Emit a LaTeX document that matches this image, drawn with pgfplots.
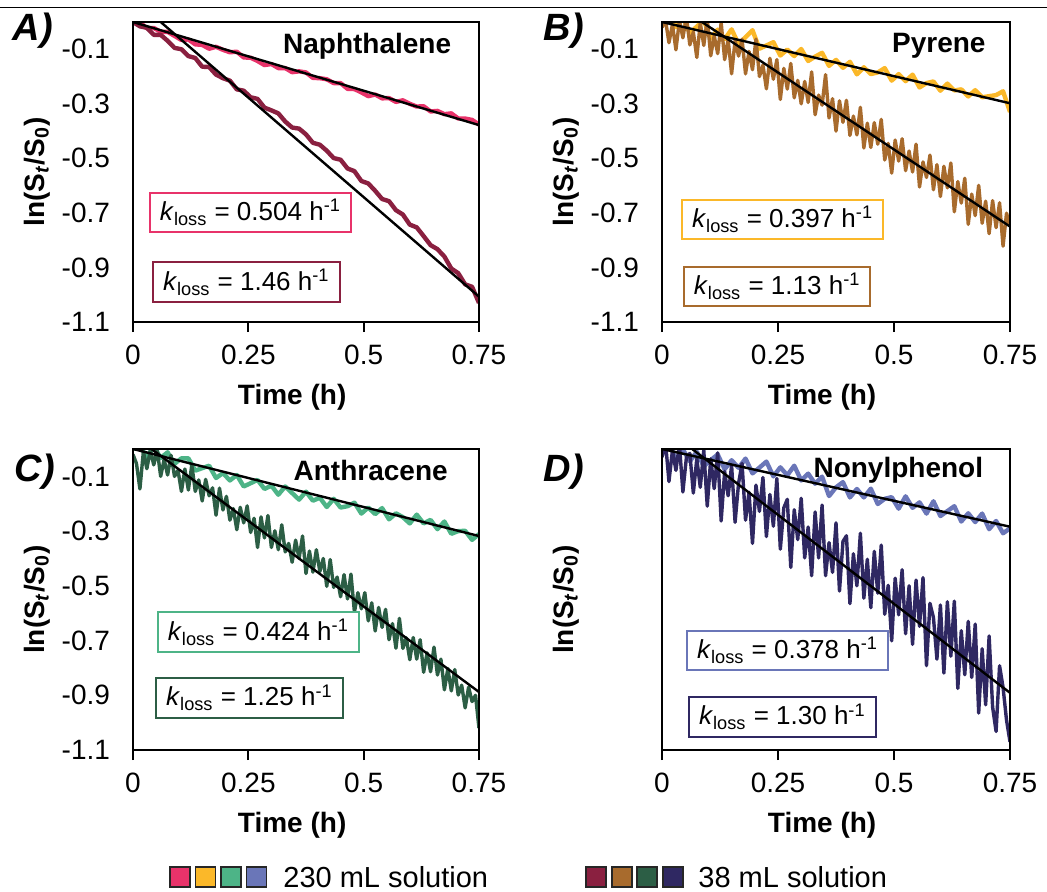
\documentclass[border=0pt]{standalone}
\usepackage{fontspec}
\setmainfont{Liberation Sans}
\usepackage{pgfplots}
\usepackage{pgfplotstable}
\pgfplotsset{compat=1.18}
\definecolor{cn1}{HTML}{E8336A}
\definecolor{cn2}{HTML}{8A2040}
\definecolor{cp1}{HTML}{FBB829}
\definecolor{cp2}{HTML}{A86B2D}
\definecolor{ca1}{HTML}{4DB487}
\definecolor{ca2}{HTML}{2C5E45}
\definecolor{cnp1}{HTML}{6A76B8}
\definecolor{cnp2}{HTML}{2F2862}

\pgfplotstableread{
t n1 n2 p1 a1 np1
0.000 0.000 0.000 0.000 0.000 0.000
0.015 -0.002 -0.016 0.015 0.012 0.028
0.030 -0.023 -0.021 -0.019 -0.030 -0.043
0.045 -0.022 -0.047 0.016 0.009 -0.002
0.060 -0.036 -0.047 -0.040 -0.033 -0.045
0.075 -0.036 -0.069 -0.017 -0.012 -0.010
0.090 -0.051 -0.095 0.006 -0.054 -0.063
0.105 -0.066 -0.100 -0.061 -0.034 -0.041
0.120 -0.064 -0.125 -0.028 -0.034 -0.020
0.135 -0.082 -0.132 -0.063 -0.079 -0.074
0.150 -0.084 -0.164 -0.027 -0.070 -0.041
0.165 -0.098 -0.165 -0.081 -0.061 -0.069
0.180 -0.091 -0.193 -0.056 -0.106 -0.035
0.195 -0.102 -0.206 -0.030 -0.088 -0.089
0.210 -0.111 -0.215 -0.098 -0.115 -0.068
0.225 -0.109 -0.247 -0.086 -0.095 -0.046
0.240 -0.130 -0.252 -0.074 -0.137 -0.100
0.255 -0.131 -0.276 -0.123 -0.125 -0.067
0.270 -0.143 -0.282 -0.101 -0.113 -0.096
0.285 -0.158 -0.314 -0.125 -0.146 -0.061
0.300 -0.154 -0.324 -0.099 -0.134 -0.115
0.315 -0.169 -0.335 -0.143 -0.167 -0.090
0.330 -0.169 -0.365 -0.127 -0.137 -0.127
0.345 -0.184 -0.387 -0.113 -0.161 -0.101
0.360 -0.181 -0.391 -0.161 -0.185 -0.172
0.375 -0.185 -0.412 -0.139 -0.156 -0.140
0.390 -0.205 -0.443 -0.168 -0.189 -0.121
0.405 -0.206 -0.450 -0.146 -0.178 -0.177
0.420 -0.210 -0.472 -0.192 -0.212 -0.146
0.435 -0.224 -0.499 -0.166 -0.182 -0.177
0.450 -0.224 -0.505 -0.191 -0.214 -0.145
0.465 -0.245 -0.537 -0.185 -0.209 -0.201
0.480 -0.246 -0.547 -0.169 -0.196 -0.182
0.495 -0.258 -0.583 -0.215 -0.236 -0.176
0.510 -0.272 -0.592 -0.191 -0.214 -0.218
0.525 -0.266 -0.619 -0.217 -0.238 -0.173
0.540 -0.280 -0.649 -0.193 -0.216 -0.215
0.555 -0.279 -0.657 -0.240 -0.257 -0.195
0.570 -0.293 -0.690 -0.224 -0.235 -0.236
0.585 -0.287 -0.706 -0.218 -0.249 -0.191
0.600 -0.300 -0.743 -0.252 -0.272 -0.245
0.615 -0.310 -0.753 -0.226 -0.240 -0.227
0.630 -0.309 -0.785 -0.251 -0.272 -0.209
0.645 -0.328 -0.818 -0.247 -0.259 -0.265
0.660 -0.326 -0.833 -0.273 -0.293 -0.235
0.675 -0.338 -0.860 -0.250 -0.265 -0.267
0.690 -0.335 -0.904 -0.276 -0.310 -0.236
0.705 -0.354 -0.921 -0.272 -0.300 -0.293
0.720 -0.354 -0.962 -0.268 -0.299 -0.263
0.735 -0.359 -0.971 -0.254 -0.332 -0.308
0.750 -0.376 -1.030 -0.330 -0.311 -0.290
}\lowtab

\pgfplotstableread{
t p2 a2 np2
0.0000 -0.020 -0.020 -0.030
0.0075 0.007 -0.053 0.025
0.0150 -0.076 -0.146 -0.119
0.0225 -0.009 -0.009 -0.004
0.0300 -0.102 -0.072 -0.078
0.0375 0.005 -0.005 0.017
0.0450 -0.058 -0.058 -0.157
0.0525 0.019 -0.003 -0.032
0.0600 -0.084 -0.100 -0.016
0.0675 -0.037 -0.038 -0.161
0.0750 -0.130 -0.095 -0.035
0.0825 -0.003 -0.023 -0.140
0.0900 -0.086 -0.100 -0.004
0.0975 0.011 -0.078 -0.209
0.1050 -0.124 -0.155 -0.036
0.1125 -0.050 -0.073 -0.145
0.1200 -0.116 -0.150 -0.014
0.1275 -0.002 -0.058 -0.263
0.1350 -0.138 -0.155 -0.082
0.1425 -0.064 -0.113 -0.171
0.1500 -0.190 -0.190 -0.060
0.1575 -0.068 -0.111 -0.268
0.1650 -0.125 -0.171 -0.125
0.1725 -0.063 -0.142 -0.053
0.1800 -0.190 -0.242 -0.260
0.1875 -0.108 -0.143 -0.158
0.1950 -0.175 -0.223 -0.345
0.2025 -0.063 -0.173 -0.132
0.2100 -0.200 -0.260 -0.228
0.2175 -0.158 -0.218 -0.104
0.2250 -0.245 -0.295 -0.320
0.2325 -0.133 -0.213 -0.166
0.2400 -0.210 -0.270 -0.282
0.2475 -0.138 -0.208 -0.108
0.2550 -0.284 -0.305 -0.366
0.2625 -0.170 -0.253 -0.215
0.2700 -0.246 -0.360 -0.184
0.2775 -0.152 -0.248 -0.433
0.2850 -0.278 -0.325 -0.222
0.2925 -0.214 -0.243 -0.331
0.3000 -0.300 -0.360 -0.180
0.3075 -0.218 -0.299 -0.398
0.3150 -0.295 -0.368 -0.285
0.3225 -0.183 -0.277 -0.463
0.3300 -0.340 -0.376 -0.230
0.3375 -0.268 -0.345 -0.398
0.3450 -0.305 -0.414 -0.205
0.3525 -0.193 -0.333 -0.463
0.3600 -0.352 -0.400 -0.342
0.3675 -0.281 -0.318 -0.451
0.3750 -0.400 -0.455 -0.270
0.3825 -0.289 -0.373 -0.519
0.3900 -0.368 -0.450 -0.338
0.3975 -0.287 -0.368 -0.317
0.4050 -0.416 -0.448 -0.565
0.4125 -0.345 -0.400 -0.383
0.4200 -0.414 -0.502 -0.500
0.4275 -0.313 -0.404 -0.308
0.4350 -0.462 -0.506 -0.545
0.4425 -0.371 -0.468 -0.403
0.4500 -0.460 -0.540 -0.580
0.4575 -0.369 -0.459 -0.374
0.4650 -0.448 -0.548 -0.527
0.4725 -0.357 -0.457 -0.351
0.4800 -0.506 -0.596 -0.604
0.4875 -0.445 -0.525 -0.498
0.4950 -0.554 -0.584 -0.701
0.5025 -0.433 -0.525 -0.472
0.5100 -0.510 -0.628 -0.606
0.5175 -0.428 -0.562 -0.441
0.5250 -0.545 -0.665 -0.675
0.5325 -0.473 -0.579 -0.500
0.5400 -0.550 -0.652 -0.714
0.5475 -0.448 -0.586 -0.479
0.5550 -0.605 -0.697 -0.648
0.5625 -0.513 -0.638 -0.470
0.5700 -0.570 -0.728 -0.792
0.5775 -0.488 -0.619 -0.564
0.5850 -0.615 -0.729 -0.616
0.5925 -0.523 -0.690 -0.768
0.6000 -0.640 -0.770 -0.570
0.6075 -0.529 -0.689 -0.819
0.6150 -0.608 -0.768 -0.558
0.6225 -0.517 -0.697 -0.757
0.6300 -0.696 -0.816 -0.556
0.6375 -0.585 -0.745 -0.875
0.6450 -0.664 -0.814 -0.664
0.6525 -0.573 -0.724 -0.825
0.6600 -0.742 -0.826 -0.630
0.6675 -0.631 -0.768 -0.835
0.6750 -0.710 -0.880 -0.640
0.6825 -0.599 -0.802 -0.965
0.6900 -0.738 -0.884 -0.730
0.6975 -0.657 -0.806 -0.935
0.7050 -0.776 -0.899 -0.683
0.7125 -0.655 -0.863 -0.943
0.7200 -0.754 -0.946 -1.032
0.7275 -0.663 -0.870 -0.792
0.7350 -0.822 -0.923 -0.871
0.7425 -0.701 -0.900 -0.991
0.7500 -0.750 -1.020 -1.070
}\hightab

\newcommand{\kl}[1]{\textit{k}\textsubscript{loss} = #1 h\textsuperscript{-1}}

\pgfplotsset{
  panel/.style={
    scale only axis, width=173pt, height=150pt,
    xmin=0, xmax=0.75, ymin=-1.1, ymax=0,
    axis on top,
    axis line style={line width=1pt, black},
    tick align=outside, major tick length=5pt,
    xtick pos=left,
    xtick={0,0.25,0.5,0.75}, xticklabels={0,0.25,0.5,0.75},
    ytick={-0.1,-0.3,-0.5,-0.7,-0.9,-1.1},
    yticklabels={-0.1,-0.3,-0.5,-0.7,-0.9,-1.1},
    ytick style={draw=none},
    xtick style={line width=1pt, black},
    ticklabel style={font=\fontsize{14}{16}\selectfont},
    yticklabel style={xshift=-3pt},
    xticklabel style={yshift=-3pt},
    xlabel={Time (h)},
    ylabel={ln(S\textsubscript{\textit{t}}/S\textsubscript{0})},
    every axis x label/.style={at={(axis description cs:0.46,0)}, yshift=-37.5pt, anchor=center, font=\fontsize{14}{16}\selectfont\bfseries},
    every axis y label/.style={at={(axis description cs:0,0.5)}, xshift=-48pt, anchor=center, rotate=90, font=\fontsize{14}{16}\selectfont\bfseries},
  },
  thin data/.style={line width=2.2pt, line join=round},
  noisy data/.style={line width=1.7pt, line join=round},
  fit/.style={black, line width=1.2pt},
}
\tikzset{
  kbox/.style={line width=1pt, fill=white, anchor=west, inner xsep=5pt, minimum height=19.5pt, font=\fontsize{13}{15}\selectfont},
  ttl/.style={anchor=east, font=\fontsize{14}{16}\selectfont\bfseries},
}

\begin{document}
\begin{tikzpicture}
\useasboundingbox (0pt,0pt) rectangle (523.5pt,-446pt);
\draw[line width=0.75pt] (0pt,-3.75pt) -- (523.5pt,-3.75pt);

% A
\begin{axis}[panel, at={(66.5pt,-11pt)}, anchor=north west]
\addplot[cn1, thin data] table[x=t,y=n1]{\lowtab};
\addplot[cn2, thin data] table[x=t,y=n2]{\lowtab};
\addplot[fit] coordinates {(0,0) (0.75,-0.378)};
\addplot[fit] coordinates {(0.06,0) (0.75,-1.007)};
\node[ttl] at (axis description cs:0.94,0.92) {Naphthalene};
\node[kbox, draw=cn1] at (axis description cs:0.046,0.365) {\kl{0.504}};
\node[kbox, draw=cn2] at (axis description cs:0.055,0.133) {\kl{1.46}};
\end{axis}

% B
\begin{axis}[panel, width=174pt, at={(331pt,-11pt)}, anchor=north west]
\addplot[cp1, thin data] table[x=t,y=p1]{\lowtab};
\addplot[cp2, noisy data] table[x=t,y=p2]{\hightab};
\addplot[fit] coordinates {(0,0) (0.75,-0.298)};
\addplot[fit] coordinates {(0.086,0) (0.75,-0.750)};
\node[ttl] at (axis description cs:0.95,0.92) {Pyrene};
\node[kbox, draw=cp1] at (axis description cs:0.055,0.342) {\kl{0.397}};
\node[kbox, draw=cp2] at (axis description cs:0.06,0.118) {\kl{1.13}};
\end{axis}

% C
\begin{axis}[panel, height=150.5pt, at={(66.5pt,-224.5pt)}, anchor=north west]
\addplot[ca1, thin data] table[x=t,y=a1]{\lowtab};
\addplot[ca2, noisy data] table[x=t,y=a2]{\hightab};
\addplot[fit] coordinates {(0,0) (0.75,-0.318)};
\addplot[fit] coordinates {(0.04,0) (0.75,-0.888)};
\node[ttl] at (axis description cs:0.93,0.93) {Anthracene};
\node[kbox, draw=ca1] at (axis description cs:0.069,0.392) {\kl{0.424}};
\node[kbox, draw=ca2] at (axis description cs:0.064,0.173) {\kl{1.25}};
\end{axis}

% D
\begin{axis}[panel, width=174pt, height=150.5pt, yticklabels={}, at={(331pt,-224.5pt)}, anchor=north west]
\addplot[cnp1, thin data] table[x=t,y=np1]{\lowtab};
\addplot[cnp2, noisy data] table[x=t,y=np2]{\hightab};
\addplot[fit] coordinates {(0,0) (0.75,-0.284)};
\addplot[fit] coordinates {(0.065,0) (0.75,-0.891)};
\node[ttl] at (axis description cs:0.943,0.93) {Nonylphenol};
\node[kbox, draw=cnp1] at (axis description cs:0.069,0.331) {\kl{0.378}};
\node[kbox, draw=cnp2] at (axis description cs:0.075,0.11) {\kl{1.30}};
\end{axis}

% panel letters
\node[font=\fontsize{19}{21}\selectfont\bfseries\itshape] at (16.5pt,-15.5pt) {A)};
\node[font=\fontsize{19}{21}\selectfont\bfseries\itshape] at (282pt,-15.5pt) {B)};
\node[font=\fontsize{19}{21}\selectfont\bfseries\itshape] at (17.5pt,-236pt) {C)};
\node[font=\fontsize{19}{21}\selectfont\bfseries\itshape] at (282pt,-236pt) {D)};

% legend
\foreach \c/\x in {cn1/90, cp1/102.75, ca1/115.5, cnp1/128.25, cn2/298, cp2/311, ca2/323.5, cnp2/336.5}
  \node[draw=black!85, line width=0.8pt, fill=\c, minimum size=10pt, inner sep=0pt] at (\x pt,-438.5pt) {};
\node[anchor=west, inner sep=0pt, font=\fontsize{14.5}{17}\selectfont] at (141.5pt,-438.5pt) {230 mL solution};
\node[anchor=west, inner sep=0pt, font=\fontsize{14.5}{17}\selectfont] at (349pt,-438.5pt) {38 mL solution};
\end{tikzpicture}
\end{document}
